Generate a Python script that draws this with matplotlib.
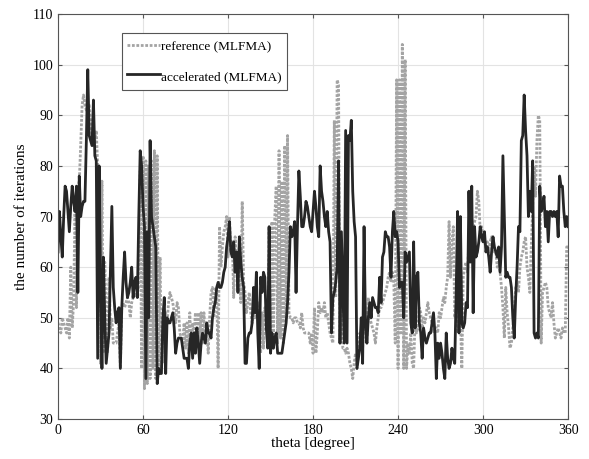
import numpy as np
import matplotlib
matplotlib.use("Agg")
import matplotlib.pyplot as plt

plt.rcParams['font.family'] = ['Liberation Serif', 'DejaVu Serif']

theta = np.arange(0, 361)  # grader, 1 grads steg

# referens (MLFMA)
ref = [49, 48, 47, 50, 49, 48, 47, 50, 46, 60,
       48, 53, 72, 52, 76, 77, 84, 92, 94, 92,
       91, 92, 92, 89, 86, 84, 85, 87, 80, 61,
       41, 77, 43, 61, 50, 43, 58, 48, 50, 45,
       45, 45, 47, 49, 40, 52, 53, 52, 53, 54,
       53, 50, 53, 54, 55, 54, 55, 56, 79, 40,
       82, 36, 81, 37, 80, 38, 81, 40, 83, 38,
       82, 39, 62, 40, 45, 41, 51, 49, 53, 55,
       54, 53, 51, 49, 53, 52, 47, 46, 45, 49,
       44, 49, 43, 51, 44, 49, 47, 51, 44, 51,
       45, 51, 45, 51, 45, 48, 43, 50, 55, 56,
       50, 56, 55, 40, 68, 60, 64, 67, 68, 70,
       62, 70, 63, 65, 54, 66, 60, 62, 64, 53,
       73, 57, 55, 51, 53, 55, 51, 49, 51, 50,
       52, 53, 47, 43, 51, 44, 52, 50, 47, 68,
       47, 69, 44, 70, 76, 45, 83, 46, 77, 45,
       84, 50, 86, 51, 50, 50, 49, 50, 50, 49,
       49, 48, 51, 48, 47, 47, 47, 47, 45, 47,
       43, 52, 43, 47, 53, 51, 52, 51, 53, 50,
       51, 49, 47, 46, 45, 89, 54, 97, 96, 45,
       53, 44, 44, 43, 44, 43, 41, 40, 38, 41,
       43, 40, 43, 47, 45, 44, 50, 47, 45, 54,
       50, 49, 48, 47, 45, 48, 50, 52, 52, 53,
       54, 55, 56, 58, 59, 57, 59, 57, 45, 97,
       40, 97, 47, 104, 40, 101, 40, 45, 43, 47,
       41, 40, 50, 47, 48, 52, 51, 48, 50, 49,
       51, 53, 51, 50, 49, 47, 48, 48, 47, 51,
       50, 52, 54, 53, 56, 58, 69, 58, 65, 68,
       50, 52, 47, 49, 50, 40, 58, 60, 61, 59,
       65, 70, 69, 68, 69, 70, 75, 73, 67, 68,
       66, 65, 64, 65, 63, 65, 66, 64, 63, 63,
       60, 61, 59, 56, 52, 46, 56, 51, 48, 44,
       45, 48, 51, 56, 57, 55, 60, 62, 63, 65,
       66, 60, 58, 55, 64, 72, 80, 74, 85, 90,
       89, 45, 55, 56, 57, 56, 52, 51, 50, 53,
       49, 46, 47, 48, 47, 46, 48, 47, 47, 64,
       64]

# accelererad (MLFMA)
acc = [63, 71, 66, 62, 70, 76, 75, 71, 67, 72,
       76, 73, 71, 76, 55, 78, 70, 72, 73, 73,
       85, 99, 86, 85, 84, 93, 82, 81, 42, 80,
       58, 40, 62, 50, 41, 44, 47, 60, 72, 56,
       52, 49, 51, 52, 40, 52, 58, 63, 57, 54,
       55, 57, 60, 54, 57, 58, 54, 70, 83, 80,
       72, 68, 38, 67, 50, 85, 70, 68, 66, 64,
       37, 40, 39, 39, 50, 54, 39, 50, 49, 49,
       50, 51, 48, 43, 45, 46, 46, 46, 44, 42,
       42, 42, 40, 45, 47, 42, 47, 43, 48, 45,
       41, 45, 47, 46, 45, 49, 47, 47, 46, 50,
       52, 53, 56, 57, 56, 56, 57, 59, 60, 64,
       66, 69, 63, 62, 65, 59, 63, 55, 66, 61,
       58, 56, 41, 41, 46, 47, 47, 49, 56, 51,
       59, 47, 40, 58, 55, 59, 58, 48, 44, 68,
       43, 47, 44, 46, 47, 43, 43, 43, 43, 45,
       47, 49, 53, 59, 68, 66, 67, 69, 55, 68,
       79, 74, 68, 68, 70, 73, 72, 70, 68, 67,
       71, 75, 72, 68, 66, 80, 75, 73, 70, 68,
       71, 67, 65, 47, 54, 55, 57, 60, 81, 45,
       67, 56, 45, 87, 45, 86, 85, 89, 75, 69,
       66, 40, 42, 44, 50, 41, 68, 49, 45, 50,
       53, 50, 54, 53, 52, 52, 51, 58, 53, 62,
       63, 67, 66, 66, 64, 58, 67, 71, 66, 67,
       65, 56, 57, 57, 50, 63, 61, 62, 63, 49,
       47, 65, 48, 58, 59, 49, 47, 42, 48, 46,
       45, 46, 47, 47, 49, 51, 47, 38, 45, 42,
       45, 43, 40, 38, 47, 42, 40, 41, 44, 42,
       41, 55, 71, 47, 70, 49, 48, 49, 53, 52,
       75, 61, 76, 51, 68, 62, 63, 65, 68, 66,
       65, 67, 63, 64, 62, 59, 63, 66, 64, 63,
       62, 64, 59, 64, 82, 70, 58, 59, 58, 58,
       56, 50, 46, 54, 60, 68, 67, 85, 86, 94,
       87, 82, 70, 75, 71, 81, 47, 46, 47, 46,
       76, 71, 72, 74, 68, 71, 65, 71, 71, 70,
       71, 70, 71, 66, 78, 76, 76, 71, 68, 70,
       68]

fig = plt.figure(figsize=(5.89, 4.59), dpi=100)
ax = fig.add_axes([0.0985, 0.087, 0.866, 0.8825])

ax.plot(theta, ref, linestyle=(0, (1.0, 0.6)), color="#a4a4a4", lw=2.0, label="reference (MLFMA)")
ax.plot(theta, acc, '-', color="#262626", lw=2.0, label="accelerated (MLFMA)")

ax.set_xlim(0, 360)
ax.set_ylim(30, 110)
ax.set_xticks(np.arange(0, 361, 60))
ax.set_yticks(np.arange(30, 111, 10))
ax.tick_params(direction='in', labelsize=10, length=3, color="#555555", top=True, right=True)
ax.grid(True, color="#e3e3e3", lw=0.8)
for s in ax.spines.values():
    s.set_color("#555555")
    s.set_linewidth(0.8)

ax.set_xlabel("theta [degree]", fontsize=11, labelpad=0)
ax.set_ylabel("the number of iterations", fontsize=11, labelpad=3)

leg = ax.legend(loc='upper left', bbox_to_anchor=(0.125, 0.953), fontsize=9.5,
                handlelength=2.5, handleheight=1.5, handletextpad=0.08, labelspacing=1.05,
                fancybox=False, framealpha=1, borderpad=0.4, borderaxespad=0)
leg.get_frame().set_edgecolor("#555555")
leg.get_frame().set_linewidth(0.8)

fig.savefig("out.png", dpi=100)
